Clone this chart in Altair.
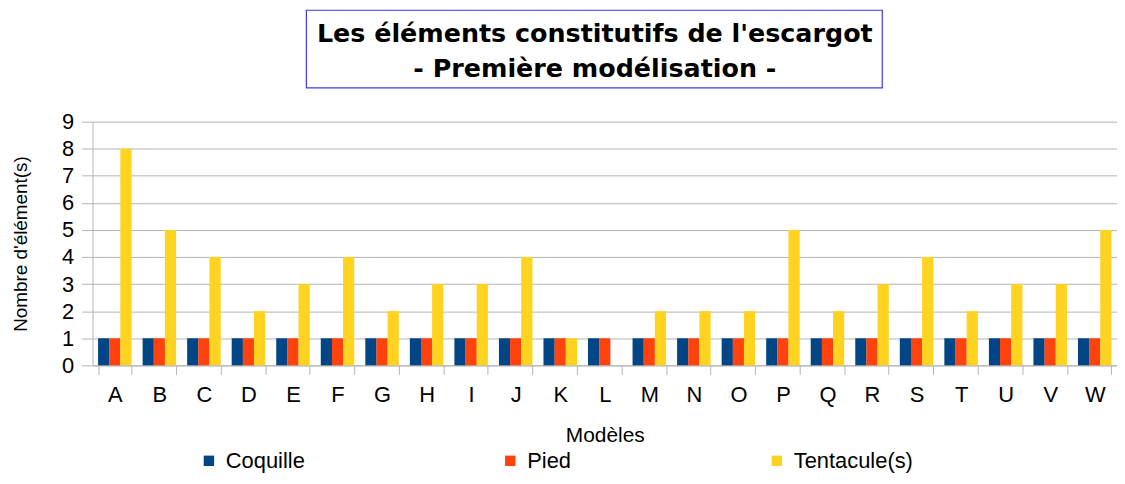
import altair as alt
import pandas as pd

models = list("ABCDEFGHIJKLMNOPQRSTUVW")
coquille = [1] * 23
pied = [1] * 23
tentacules = [8, 5, 4, 2, 3, 4, 2, 3, 3, 4, 1, 0, 2, 2, 2, 5, 2, 3, 4, 2, 3, 3, 5]
series = ["Coquille", "Pied", "Tentacule(s)"]
colors = ["#004586", "#ff420e", "#ffd320"]
title_lines = ["Les éléments constitutifs de l'escargot", "- Première modélisation -"]

rows = []
for i, m in enumerate(models):
    for s, vals in zip(series, [coquille, pied, tentacules]):
        rows.append({"Modèle": m, "Série": s, "Valeur": vals[i]})
df = pd.DataFrame(rows)

FONT = "Liberation Sans"

bars = alt.Chart(df).mark_bar(size=11.3).encode(
    x=alt.X("Modèle:N", sort=models,
            scale=alt.Scale(paddingInner=0.25, paddingOuter=0.125),
            axis=alt.Axis(title="Modèles", labelAngle=0, tickBand="extent",
                          labelFontSize=22, labelFont=FONT, labelColor="black",
                          titleFontSize=21, titleFont=FONT, titleFontWeight="normal",
                          titleColor="black", titlePadding=20,
                          domainColor="#b3b3b3", tickColor="#b3b3b3", tickSize=9,
                          labelPadding=10, grid=False)),
    xOffset=alt.XOffset("Série:N", sort=series),
    y=alt.Y("Valeur:Q", scale=alt.Scale(domain=[0, 9], nice=False),
            axis=alt.Axis(title="Nombre d'élément(s)", values=list(range(10)),
                          labelFontSize=22, labelFont=FONT, labelColor="black",
                          titleFontSize=19, titleFont=FONT, titleFontWeight="normal",
                          titleColor="black", titlePadding=31,
                          domainColor="#b3b3b3", tickColor="#b3b3b3", tickSize=11,
                          gridColor="#b3b3b3", labelPadding=8)),
    color=alt.Color("Série:N", sort=series,
                    scale=alt.Scale(domain=series, range=colors),
                    legend=alt.Legend(title=None, orient="none", direction="horizontal",
                                      legendX=106, legendY=330,
                                      symbolType="square", symbolSize=110,
                                      symbolStrokeWidth=0,
                                      labelFontSize=22, labelFont=FONT, labelColor="black",
                                      columnPadding=195, labelOffset=6, padding=0)),
)

box = alt.Chart(pd.DataFrame({"a": [0]})).mark_rect(
    fill="white", fillOpacity=0, stroke="#3a3af0", strokeWidth=1.2
).encode(
    x=alt.value(215), x2=alt.value(794), y=alt.value(-112), y2=alt.value(-34)
)

tdf = pd.DataFrame({"t": title_lines, "i": [0, 1]})
title1 = alt.Chart(tdf.iloc[[0]]).mark_text(
    font="DejaVu Sans", fontSize=25.5, fontWeight="bold", color="black", baseline="middle"
).encode(text="t:N", x=alt.value(505), y=alt.value(-88))
title2 = alt.Chart(tdf.iloc[[1]]).mark_text(
    font="DejaVu Sans", fontSize=25.5, fontWeight="bold", color="black", baseline="middle"
).encode(text="t:N", x=alt.value(505), y=alt.value(-53))

chart = alt.layer(box, title1, title2, bars).properties(
    width=1030, height=245,
    padding={"left": 85, "top": 113, "right": 0, "bottom": 110},
    autosize=alt.AutoSizeParams(type="none"),
).configure_view(stroke=None)

chart.save("out.html", embed_options={"renderer": "svg", "actions": False})
